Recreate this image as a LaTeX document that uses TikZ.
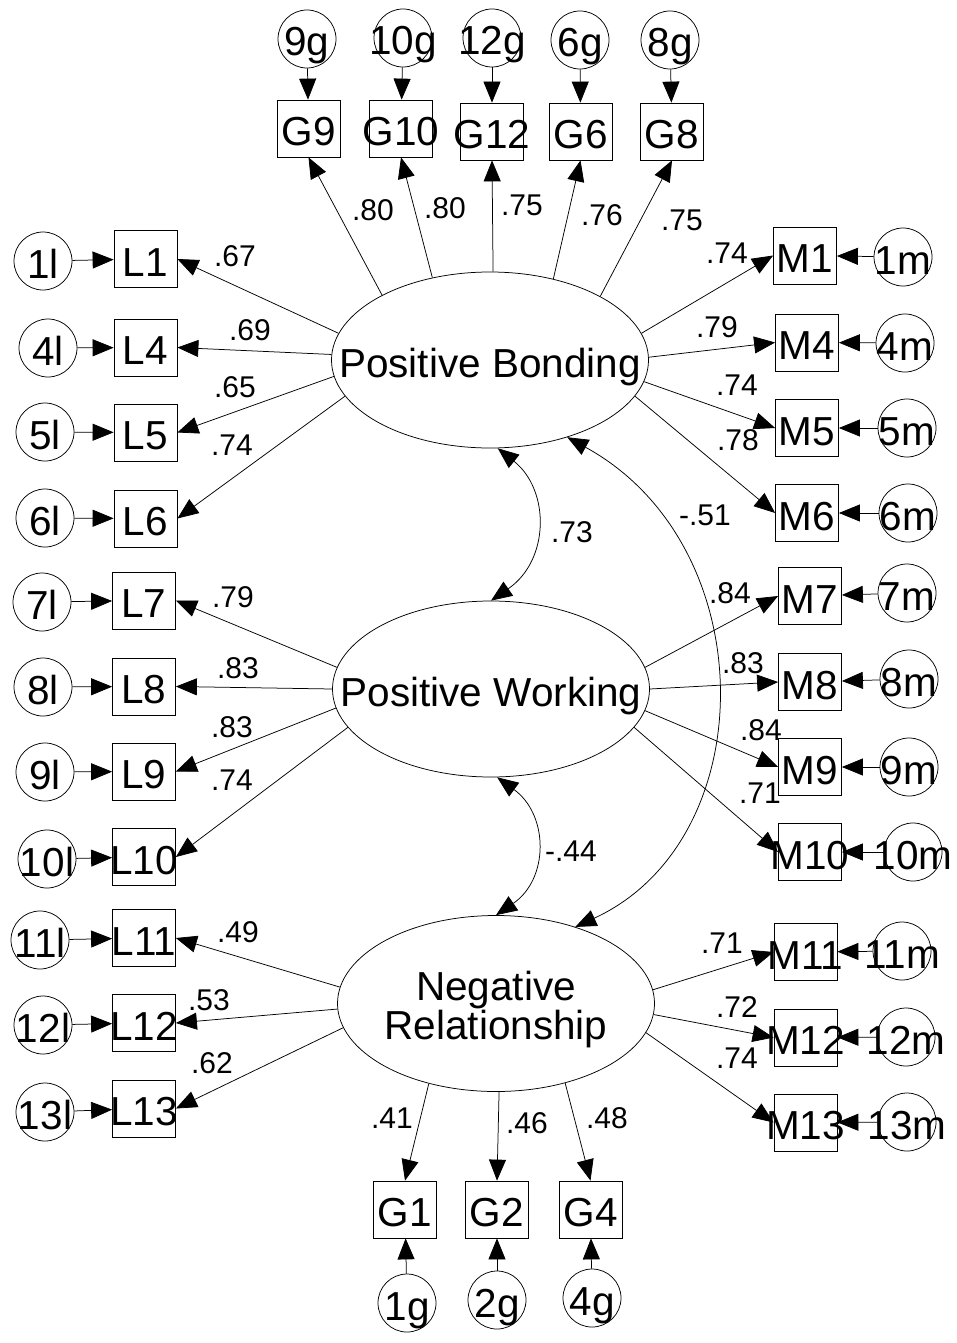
\documentclass[tikz,border=0pt]{standalone}
\usepackage{fontspec}
\setmainfont{Liberation Sans}
\usetikzlibrary{arrows.meta,shapes.geometric}
\newcommand\tx[1]{\makebox[0pt]{\raisebox{-17pt}[0pt][0pt]{#1}}}
\tikzset{
  big/.style={font=\fontsize{40.5}{40.5}\selectfont},
  obs/.style={big, draw, rectangle, minimum width=63pt, minimum height=57pt, inner sep=0pt, line width=0.75pt},
  err/.style={big, draw, circle, minimum size=58pt, inner sep=0pt, line width=0.75pt},
  lat/.style={big, draw, ellipse, minimum width=317pt, minimum height=176pt, inner sep=0pt, line width=0.75pt},
  coef/.style={font=\fontsize{30}{30}\selectfont, inner sep=0pt},
  arr/.style={-{Triangle[length=21pt,width=17pt]}, line width=0.75pt},
  cov/.style={{Triangle[length=21pt,width=17pt]}-{Triangle[length=21pt,width=17pt]}, line width=0.75pt},
}
\begin{document}
\begin{tikzpicture}[x=1pt,y=-1pt]
\useasboundingbox (0,0) rectangle (956,1343);
% latent variables
\node[lat] (PB) at (490,360) {\tx{Positive Bonding}};
\node[lat] (PW) at (491,689) {\tx{Positive Working}};
\node[lat] (NR) at (496,1003.5) {\makebox[0pt]{\raisebox{3.5pt}[0pt][0pt]{Negative}}\makebox[0pt]{\raisebox{-35.5pt}[0pt][0pt]{Relationship}}};
% top G
\node[obs] (G9) at (308.5,128.5) {\tx{G9}};
\node[obs] (G10) at (401,128.5) {\tx{G10}};
\node[obs] (G12) at (492,131.5) {\tx{G12}};
\node[obs] (G6) at (580.5,131.5) {\tx{G6}};
\node[obs] (G8) at (672,131.5) {\tx{G8}};
\node[err] (e9g) at (307,39) {\tx{9g}};
\node[err] (e10g) at (403,38) {\tx{10g}};
\node[err] (e12g) at (492,38) {\tx{12g}};
\node[err] (e6g) at (580,40) {\tx{6g}};
\node[err] (e8g) at (670,40) {\tx{8g}};
% left L
\node[obs] (L1) at (145.5,259) {\tx{L1}};
\node[obs] (L4) at (145.5,347.5) {\tx{L4}};
\node[obs] (L5) at (145.5,432.5) {\tx{L5}};
\node[obs] (L6) at (145.5,518.5) {\tx{L6}};
\node[obs] (L7) at (144,600.5) {\tx{L7}};
\node[obs] (L8) at (144,686.5) {\tx{L8}};
\node[obs] (L9) at (144,771.5) {\tx{L9}};
\node[obs] (L10) at (144,857) {\tx{L10}};
\node[obs] (L11) at (144,938) {\tx{L11}};
\node[obs] (L12) at (144,1023) {\tx{L12}};
\node[obs] (L13) at (144,1108.5) {\tx{L13}};
\node[err] (e1l) at (43,261) {\tx{1l}};
\node[err] (e4l) at (48,348) {\tx{4l}};
\node[err] (e5l) at (45,432) {\tx{5l}};
\node[err] (e6l) at (45,518) {\tx{6l}};
\node[err] (e7l) at (42,602) {\tx{7l}};
\node[err] (e8l) at (43,687) {\tx{8l}};
\node[err] (e9l) at (45,772) {\tx{9l}};
\node[err] (e10l) at (47,859) {\tx{10l}};
\node[err] (e11l) at (40,940) {\tx{11l}};
\node[err] (e12l) at (43,1025) {\tx{12l}};
\node[err] (e13l) at (45,1112) {\tx{13l}};
% right M
\node[obs] (M1) at (805,255.5) {\tx{M1}};
\node[obs] (M4) at (807,342.5) {\tx{M4}};
\node[obs] (M5) at (807,428) {\tx{M5}};
\node[obs] (M6) at (807,513) {\tx{M6}};
\node[obs] (M7) at (810,596) {\tx{M7}};
\node[obs] (M8) at (810,682) {\tx{M8}};
\node[obs] (M9) at (810,767) {\tx{M9}};
\node[obs] (M10) at (810,852) {\tx{M10}};
\node[obs] (M11) at (805.5,952) {\tx{M11}};
\node[obs] (M12) at (805.5,1037.5) {\tx{M12}};
\node[obs] (M13) at (805.5,1122.5) {\tx{M13}};
\node[err] (e1m) at (903,257) {\tx{1m}};
\node[err] (e4m) at (905,343) {\tx{4m}};
\node[err] (e5m) at (907,428) {\tx{5m}};
\node[err] (e6m) at (908,513) {\tx{6m}};
\node[err] (e7m) at (907,593) {\tx{7m}};
\node[err] (e8m) at (909,679) {\tx{8m}};
\node[err] (e9m) at (909,767) {\tx{9m}};
\node[err] (e10m) at (913,852) {\tx{10m}};
\node[err] (e11m) at (902,951) {\tx{11m}};
\node[err] (e12m) at (906,1037) {\tx{12m}};
\node[err] (e13m) at (907,1122) {\tx{13m}};
% bottom G
\node[obs] (G1) at (405,1209.5) {\tx{G1}};
\node[obs] (G2) at (497,1209.5) {\tx{G2}};
\node[obs] (G4) at (590.5,1209.5) {\tx{G4}};
\node[err] (e1g) at (407,1303) {\tx{1g}};
\node[err] (e2g) at (497,1300) {\tx{2g}};
\node[err] (e4g) at (592,1298) {\tx{4g}};
% error arrows
\foreach \e/\b in {e9g/G9,e10g/G10,e12g/G12,e6g/G6,e8g/G8,
  e1l/L1,e4l/L4,e5l/L5,e6l/L6,e7l/L7,e8l/L8,e9l/L9,e10l/L10,e11l/L11,e12l/L12,e13l/L13,
  e1m/M1,e4m/M4,e5m/M5,e6m/M6,e7m/M7,e8m/M8,e9m/M9,e10m/M10,e11m/M11,e12m/M12,e13m/M13,
  e1g/G1,e2g/G2,e4g/G4}
  {\draw[arr] (\e) -- (\b);}
% loadings PB
\draw[arr] (PB.149.4) -- (G9.south);
\draw[arr] (PB.125.9) -- (G10.south);
\draw[arr] (PB.88.7) -- (G12.south);
\draw[arr] (PB.52.5) -- (G6.south);
\draw[arr] (PB.30.1) -- (G8.south);
\draw[arr] (PB.170.7) -- (L1.east);
\draw[arr] (PB.178.9) -- (L4.east);
\draw[arr] (PB.186.8) -- (L5.east);
\draw[arr] (PB.194) -- (L6.east);
\draw[arr] (PB.10.1) -- (M1.west);
\draw[arr] (PB.1.5) -- (M4.west);
\draw[arr] (PB.-8) -- (M5.west);
\draw[arr] (PB.-14.7) -- (M6.west);
% loadings PW
\draw[arr] (PW.172.3) -- (L7.east);
\draw[arr] (PW.180) -- (L8.east);
\draw[arr] (PW.187.6) -- (L9.east);
\draw[arr] (PW.195.2) -- (L10.east);
\draw[arr] (PW.8.5) -- (M7.west);
\draw[arr] (PW.0.7) -- (M8.west);
\draw[arr] (PW.-8.4) -- (M9.west);
\draw[arr] (PW.-15.2) -- (M10.west);
% loadings NR
\draw[arr] (NR.174.4) -- (L11.east);
\draw[arr] (NR.182.4) -- (L12.east);
\draw[arr] (NR.189.6) -- (L13.east);
\draw[arr] (NR.5.3) -- (M11.west);
\draw[arr] (NR.-4.1) -- (M12.west);
\draw[arr] (NR.-11.9) -- (M13.west);
\draw[arr] (NR.230.6) -- (G1.north);
\draw[arr] (NR.-88.7) -- (G2.north);
\draw[arr] (NR.-49) -- (G4.north);
% covariances
\draw[cov] (PB.-85) .. controls (550,490) and (550,560) .. (PW.90.6);
\draw[cov] (PW.-86) .. controls (549,815) and (549,879) .. (NR.90.6);
\draw[cov] (PB.-45) .. controls (764,545) and (764,840) .. (NR.44.5);
% coefficients
\node[coef] (c1) at (373,210) {.80};
\node[coef] (c2) at (445,208) {.80};
\node[coef] (c3) at (522,205) {.75};
\node[coef] (c4) at (602,215) {.76};
\node[coef] (c5) at (682,220) {.75};
\node[coef] (c6) at (235,256) {.67};
\node[coef] (c7) at (250,330) {.69};
\node[coef] (c8) at (235,387) {.65};
\node[coef] (c9) at (232,445) {.74};
\node[coef] (c10) at (727,253) {.74};
\node[coef] (c11) at (717,327) {.79};
\node[coef] (c12) at (737,385) {.74};
\node[coef] (c13) at (738,440) {.78};
\node[coef] (c14) at (705,515) {-.51};
\node[coef] (c15) at (572,532) {.73};
\node[coef] (c16) at (233,597) {.79};
\node[coef] (c17) at (238,668) {.83};
\node[coef] (c18) at (232,727) {.83};
\node[coef] (c19) at (232,780) {.74};
\node[coef] (c20) at (730,593) {.84};
\node[coef] (c21) at (743,663) {.83};
\node[coef] (c22) at (761,730) {.84};
\node[coef] (c23) at (760,793) {.71};
\node[coef] (c24) at (571,851) {-.44};
\node[coef] (c25) at (238,932) {.49};
\node[coef] (c26) at (209,1000) {.53};
\node[coef] (c27) at (212,1063) {.62};
\node[coef] (c28) at (722,943) {.71};
\node[coef] (c29) at (737,1007) {.72};
\node[coef] (c30) at (737,1058) {.74};
\node[coef] (c31) at (392,1118) {.41};
\node[coef] (c32) at (527,1123) {.46};
\node[coef] (c33) at (607,1118) {.48};
\end{tikzpicture}
\end{document}
